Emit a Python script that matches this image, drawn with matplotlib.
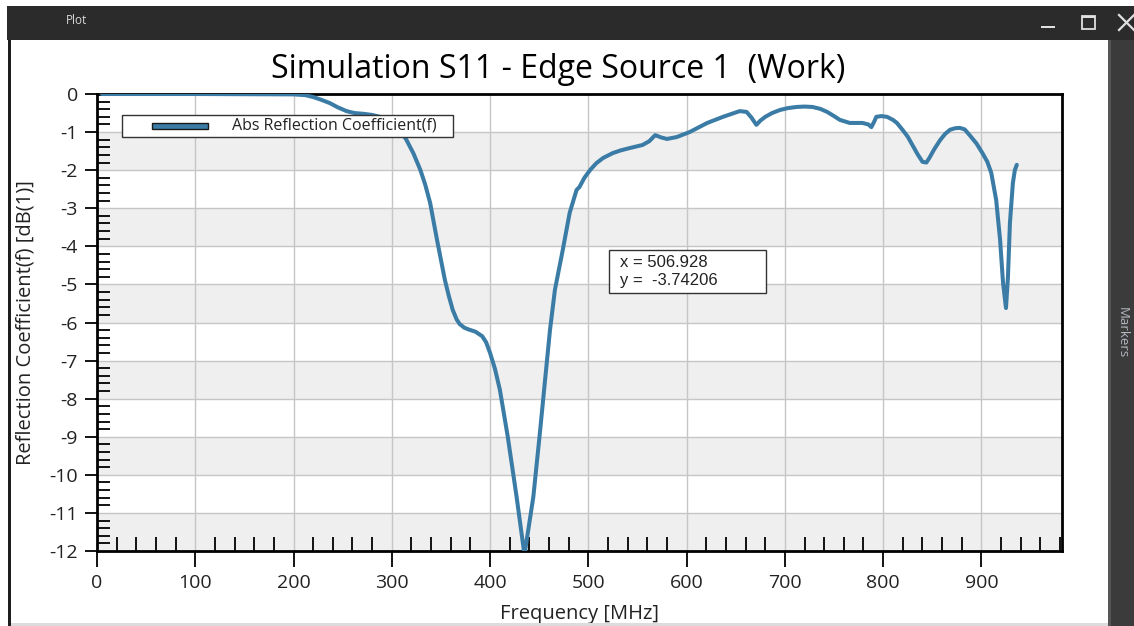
import matplotlib
import matplotlib.pyplot as plt
from matplotlib.lines import Line2D
from matplotlib.patches import Rectangle
from matplotlib.ticker import MultipleLocator

matplotlib.use("agg")

# S11 trace: frequency [MHz], reflection [dB]
freq_mhz = [
    5, 100, 200, 212, 220, 228, 237, 245, 254, 262, 271, 280, 288, 295, 301,
    308, 315, 322, 329, 334, 339, 346, 354, 358, 362, 366, 369, 374, 379, 385,
    392, 396, 400, 405, 410, 418, 427, 435, 444, 451, 456, 461, 466, 474, 481,
    488, 491, 496, 502, 508, 515, 525, 533, 542, 555, 562, 568, 574, 580, 590,
    603, 612, 621, 629, 637, 646, 654, 661, 666, 671, 675, 680, 687, 695, 703,
    712, 720, 728, 736, 743, 750, 756, 766, 779, 785, 788, 791, 793, 798, 804,
    810, 814, 820, 825, 830, 835, 840, 844, 847, 852, 858, 863, 868, 873, 878,
    883, 888, 895, 901, 906, 910, 915, 919, 922, 925, 927, 929, 932, 934, 936,
]
s11_db = [
    0.0, 0.0, -0.01, -0.03, -0.08, -0.15, -0.24, -0.35, -0.45, -0.5, -0.52,
    -0.55, -0.6, -0.66, -0.76, -0.93, -1.21, -1.56, -1.99, -2.38, -2.86, -3.83,
    -4.88, -5.3, -5.67, -5.92, -6.04, -6.14, -6.19, -6.24, -6.36, -6.52,
    -6.8, -7.22, -7.77, -9.0, -10.58, -12.1, -10.58, -8.82, -7.5, -6.19,
    -5.14, -4.09, -3.12, -2.52, -2.44, -2.2, -1.99, -1.82, -1.68, -1.55, -1.48,
    -1.42, -1.34, -1.24, -1.08, -1.14, -1.18, -1.13, -1.0, -0.88, -0.76,
    -0.68, -0.6, -0.52, -0.45, -0.47, -0.62, -0.81, -0.7, -0.6, -0.5, -0.42,
    -0.37, -0.34, -0.33, -0.34, -0.39, -0.47, -0.58, -0.68, -0.76, -0.76,
    -0.8, -0.87, -0.72, -0.6, -0.58, -0.6, -0.68, -0.76, -0.95, -1.12, -1.35,
    -1.58, -1.78, -1.8, -1.68, -1.45, -1.21, -1.05, -0.94, -0.9, -0.89, -0.93,
    -1.08, -1.3, -1.55, -1.78, -2.07, -2.78, -3.83, -4.96, -5.62, -4.8,
    -3.39, -2.34, -2.0, -1.86,
]

x_ticks = [0, 100, 200, 300, 400, 500, 600, 700, 800, 900]
y_ticks = [0, -1, -2, -3, -4, -5, -6, -7, -8, -9, -10, -11, -12]

title = "Simulation S11 - Edge Source 1  (Work)"
series_name = "Abs Reflection Coefficient(f)"
marker_x = 506.928
marker_y = -3.74206

LINE_COLOR = "#3b7ca6"
BAND_COLOR = "#efefef"
GRID_COLOR = "#c6c6c6"
TEXT_COLOR = "#222222"
CHROME_TEXT = "#e0e0e0"

W, H = 1134, 626

plt.rcParams["font.family"] = ["Open Sans", "DejaVu Sans"]
plt.rcParams["axes.unicode_minus"] = False

fig = plt.figure(figsize=(W / 100, H / 100), dpi=100, facecolor="white")


def px_rect(x0, y0, x1, y1, **kw):
    """Rectangle in screen pixels (top-left origin) on the figure."""
    r = Rectangle((x0 / W, 1 - y1 / H), (x1 - x0) / W, (y1 - y0) / H,
                  transform=fig.transFigure, **kw)
    fig.patches.append(r)
    return r


def px_line(x0, y0, x1, y1, **kw):
    ln = Line2D([x0 / W, x1 / W], [1 - y0 / H, 1 - y1 / H],
                transform=fig.transFigure, **kw)
    fig.lines.append(ln)
    return ln


#   Window chrome
px_rect(7, 6, W, 40, facecolor="#2b2b2b", edgecolor="none")
px_rect(8, 40, 11, H, facecolor="#1e1e1e", edgecolor="none")
px_rect(11, 623, 1108, H, facecolor="#dcdcdc", edgecolor="none")
px_rect(1108, 40, W, H, facecolor="#3b3b3b", edgecolor="none")
px_rect(1108, 40, 1111, H, facecolor="#555555", edgecolor="none")
fig.text(66 / W, 1 - 21 / H, "Plot", color="#d8d8d8", fontsize=8.5,
         va="center", ha="left")
px_rect(1041, 26, 1055, 28, facecolor=CHROME_TEXT, edgecolor="none")
px_rect(1082, 16, 1095, 29, facecolor="none", edgecolor=CHROME_TEXT, lw=1.3)
px_rect(1082, 16, 1095, 18, facecolor=CHROME_TEXT, edgecolor="none")
px_line(1119, 15, 1134, 30, color=CHROME_TEXT, lw=1.6)
px_line(1119, 30, 1134, 15, color=CHROME_TEXT, lw=1.6)
fig.text(1122 / W, 1 - 333 / H, "Markers", color="#b4b8c0", fontsize=9.5,
         rotation=-90, va="center", ha="center")

#   Plot area
ax = fig.add_axes([97 / W, 1 - 551 / H, (1062 - 97) / W, (551 - 94) / H])
ax.set_xlim(0, 982)
ax.set_ylim(-12, 0)

for upper in y_ticks[1::2]:
    ax.axhspan(upper - 1, upper, color=BAND_COLOR, zorder=0, lw=0)

ax.set_xticks(x_ticks)
ax.set_yticks(y_ticks)
ax.xaxis.set_minor_locator(MultipleLocator(20))
ax.yaxis.set_minor_locator(MultipleLocator(0.2))
ax.grid(True, which="major", color=GRID_COLOR, lw=1.0, zorder=1)
ax.set_axisbelow(True)

ax.tick_params(axis="x", which="major", direction="out", length=11.5,
               width=1.3, pad=5, labelsize=14, labelcolor=TEXT_COLOR)
ax.tick_params(axis="y", which="major", direction="out", length=8.6,
               width=1.3, pad=5, labelsize=14, labelcolor=TEXT_COLOR)
ax.tick_params(axis="x", which="minor", direction="in", length=10, width=1.3)
ax.tick_params(axis="y", which="minor", direction="in", length=9.4, width=1.3)
for side in ["left", "bottom", "top", "right"]:
    ax.spines[side].set_linewidth(2.0)
    ax.spines[side].set_color("black")

ax.plot(freq_mhz, s11_db, color=LINE_COLOR, lw=2.9, zorder=3,
        solid_joinstyle="round", solid_capstyle="round")

fig.text(558 / W, 1 - 70 / H, title, fontsize=23, color="black",
         ha="center", va="center")
ax.set_xlabel("Frequency [MHz]", fontsize=14.5, color=TEXT_COLOR, labelpad=9)
ax.set_ylabel("Reflection Coefficient(f) [dB(1)]", fontsize=14.5,
              color=TEXT_COLOR, labelpad=10)

#   Legend box
ax.add_patch(Rectangle((0.026, 0.907), 0.343, 0.047, transform=ax.transAxes,
                       facecolor="white", edgecolor="#333333", lw=1.0,
                       zorder=5))
ax.add_patch(Rectangle((0.057, 0.924), 0.058, 0.012, transform=ax.transAxes,
                       facecolor=LINE_COLOR, edgecolor="#1a1a1a", lw=1.0,
                       zorder=6))
ax.text(0.140, 0.930, series_name, transform=ax.transAxes, fontsize=11.5,
        color=TEXT_COLOR, va="center", ha="left", zorder=6)

#   Marker readout box
ax.add_patch(Rectangle((0.531, 0.565), 0.162, 0.094, transform=ax.transAxes,
                       facecolor="white", edgecolor="#333333", lw=1.0,
                       zorder=5))
ax.text(0.542, 0.612, f"x = {marker_x:.3f}\ny =  {marker_y:.5f}",
        transform=ax.transAxes, fontsize=12, family="Liberation Sans",
        color=TEXT_COLOR, va="center", ha="left", linespacing=1.3, zorder=6)

fig.savefig("out.png", dpi=100, facecolor="white")
